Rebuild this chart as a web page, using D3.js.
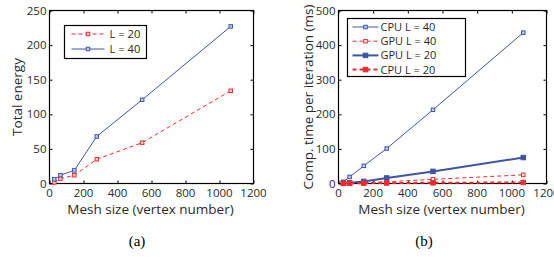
<!DOCTYPE html>
<html>
<head>
<meta charset="utf-8">
<script src="https://cdn.jsdelivr.net/npm/d3@7"></script>
<style>
  body { margin: 0; background: #fff; }
  svg text { font-family: "Open Sans", "Noto Sans", sans-serif; }
  svg text.caption { font-family: "Liberation Serif", "DejaVu Serif", serif; }
</style>
</head>
<body>
<svg id="chart" width="554" height="257"></svg>
<script>
// mesh sizes (vertex number)
const meshSizes = [28, 64, 146, 278, 545, 1066];
const xTicks = [0, 200, 400, 600, 800, 1000, 1200];

// (a) total energy
const energyL20 = [1.5, 7, 12, 35, 59, 134];
const energyL40 = [6, 12, 19, 68, 121, 227];
const yTicksA = [0, 50, 100, 150, 200, 250];

// (b) computation time per iteration (ms)
const cpuL40 = [5, 19, 51, 101, 213, 436];
const gpuL40 = [1, 1.5, 3, 5, 12, 25];
const gpuL20 = [1, 2, 6, 16, 35, 75];
const cpuL20 = [0.5, 0.5, 1, 1.5, 2, 3];
const yTicksB = [0, 100, 200, 300, 400, 500];

const blue = "#3c56a6";
const red = "#ee2b30";
const ink = "#2a2a2a";

const svg = d3.select("#chart");

function drawPanel(p) {
    const g = svg.append("g");
    const x = d3.scaleLinear().domain([0, 1200]).range([p.left, p.right]);
    const y = d3.scaleLinear().domain(p.yDomain).range([p.bottom, p.top]);

    // box
    g.append("rect")
        .attr("x", p.left).attr("y", p.top)
        .attr("width", p.right - p.left).attr("height", p.bottom - p.top)
        .attr("fill", "none").attr("stroke", "#000").attr("stroke-width", 1.2);

    // inner ticks, all four sides
    const tl = 3;
    const axB = d3.axisTop(x).tickValues(xTicks).tickSize(tl).tickFormat("");
    const axT = d3.axisBottom(x).tickValues(xTicks).tickSize(tl).tickFormat("");
    const axL = d3.axisRight(y).tickValues(p.yTicks).tickSize(tl).tickFormat("");
    const axR = d3.axisLeft(y).tickValues(p.yTicks).tickSize(tl).tickFormat("");
    [[axB, `translate(0,${p.bottom})`], [axT, `translate(0,${p.top})`],
     [axL, `translate(${p.left},0)`], [axR, `translate(${p.right},0)`]].forEach(([a, t]) => {
        const ag = g.append("g").attr("transform", t).call(a);
        ag.select(".domain").remove();
        ag.selectAll("line").attr("stroke", "#000");
    });

    // tick labels
    g.selectAll(".xl").data(xTicks).enter().append("text")
        .attr("x", d => x(d)).attr("y", p.bottom + 13.5)
        .attr("text-anchor", "middle").attr("font-size", 11.5).attr("fill", ink)
        .text(d => d);
    g.selectAll(".yl").data(p.yTicks).enter().append("text")
        .attr("x", p.left - 3).attr("y", d => y(d) + 4)
        .attr("text-anchor", "end").attr("font-size", 11.5).attr("fill", ink)
        .text(d => d);

    // axis titles
    g.append("text")
        .attr("x", (p.left + p.right) / 2 - 1).attr("y", p.bottom + 30)
        .attr("text-anchor", "middle").attr("font-size", 13.5).attr("fill", ink)
        .text("Mesh size (vertex number)");
    g.append("text")
        .attr("transform", `translate(${p.yTitleX},${(p.top + p.bottom) / 2}) rotate(-90)`)
        .attr("text-anchor", "middle").attr("font-size", 13.5).attr("fill", ink)
        .text(p.yTitle);

    // caption
    g.append("text").attr("class", "caption")
        .attr("x", p.captionX).attr("y", 246)
        .attr("text-anchor", "middle").attr("font-size", 15).attr("fill", "#000")
        .text(p.caption);

    const line = d3.line().x((d, i) => x(meshSizes[i])).y(d => y(d));

    p.series.forEach(s => {
        g.append("path").datum(s.values)
            .attr("d", line).attr("fill", "none")
            .attr("stroke", s.color).attr("stroke-width", s.width)
            .attr("stroke-dasharray", s.dash || null);
        const m = s.marker;
        g.selectAll(null).data(s.values).enter().append("rect")
            .attr("x", (d, i) => x(meshSizes[i]) - m / 2)
            .attr("y", d => y(d) - m / 2)
            .attr("width", m).attr("height", m)
            .attr("fill", s.fill).attr("stroke", s.color).attr("stroke-width", 1);
    });

    // legend
    const lg = p.legend;
    g.append("rect")
        .attr("x", lg.x).attr("y", lg.y).attr("width", lg.w).attr("height", lg.h)
        .attr("fill", "#fff").attr("stroke", "#000").attr("stroke-width", 1.2);
    p.series.forEach((s, i) => {
        const cy = lg.y + lg.first + i * lg.step;
        g.append("line")
            .attr("x1", lg.x + lg.pad).attr("x2", lg.x + lg.pad + lg.lineLen)
            .attr("y1", cy).attr("y2", cy)
            .attr("stroke", s.color).attr("stroke-width", s.width)
            .attr("stroke-dasharray", s.dash || null);
        const m = s.marker;
        g.append("rect")
            .attr("x", lg.x + lg.pad + lg.lineLen / 2 - m / 2).attr("y", cy - m / 2)
            .attr("width", m).attr("height", m)
            .attr("fill", s.fill).attr("stroke", s.color).attr("stroke-width", 1);
        g.append("text")
            .attr("x", lg.x + lg.textX).attr("y", cy + 4)
            .attr("font-size", lg.fontSize).attr("fill", ink)
            .text(s.name);
    });
}

drawPanel({
    left: 49.5, right: 253.5, top: 10.5, bottom: 183.5,
    yDomain: [0, 250], yTicks: yTicksA,
    yTitle: "Total energy", yTitleX: 22,
    caption: "(a)", captionX: 137,
    series: [
        {name: "L = 20", values: energyL20, color: red, width: 1, dash: "4,3", marker: 3.5, fill: "#fbc9ca"},
        {name: "L = 40", values: energyL40, color: blue, width: 1, marker: 3.5, fill: "#c3cbe6"}
    ],
    legend: {x: 64.5, y: 25.5, w: 82, h: 33, first: 8.5, step: 15, pad: 7, lineLen: 33, textX: 45, fontSize: 11.2}
});

drawPanel({
    left: 338.5, right: 546.5, top: 10.5, bottom: 183.5,
    yDomain: [0, 500], yTicks: yTicksB,
    yTitle: "Comp. time per iteration (ms)", yTitleX: 313,
    caption: "(b)", captionX: 424,
    series: [
        {name: "CPU L = 40", values: cpuL40, color: blue, width: 1, marker: 3.5, fill: "#c3cbe6"},
        {name: "GPU L = 40", values: gpuL40, color: red, width: 1, dash: "4,3", marker: 3.5, fill: "#fff"},
        {name: "GPU L = 20", values: gpuL20, color: blue, width: 2, marker: 4.5, fill: blue},
        {name: "CPU L = 20", values: cpuL20, color: red, width: 2, dash: "4,3", marker: 4.5, fill: red}
    ],
    legend: {x: 347.5, y: 18.5, w: 118, h: 58, first: 8.5, step: 14.2, pad: 5, lineLen: 26, textX: 33, fontSize: 11}
});
</script>
</body>
</html>
